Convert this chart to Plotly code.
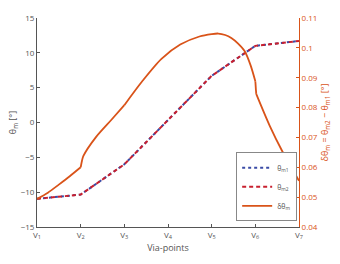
import plotly.graph_objects as go

# Via-point positions (index 1..7) and tick labels
via_x = [1, 2, 3, 4, 5, 6, 7]
via_labels = ["V<sub>1</sub>", "V<sub>2</sub>", "V<sub>3</sub>", "V<sub>4</sub>",
              "V<sub>5</sub>", "V<sub>6</sub>", "V<sub>7</sub>"]

# Motor angles at via-points [deg]
theta_m1 = [-10.95, -10.35, -6.0, 0.3, 6.7, 11.0, 11.7]
theta_m2 = [-10.95, -10.35, -6.0, 0.3, 6.7, 11.0, 11.7]

# Difference curve (x in via-point units), split at kinks
dtheta_x_a = [1.0, 1.25, 1.5, 1.75, 2.0]
dtheta_a = [0.0494, 0.0515, 0.0542, 0.0570, 0.0600]
dtheta_x_b = [2.0, 2.03, 2.06, 2.35, 2.71, 3.0]
dtheta_b = [0.0600, 0.0622, 0.0637, 0.0701, 0.0760, 0.0808]
dtheta_x_c = [3.0, 3.41, 3.85, 4.28, 4.72, 5.0, 5.15, 5.31, 5.45, 5.6, 5.75, 5.89, 6.0]
dtheta_c = [0.0808, 0.0888, 0.0963, 0.1011, 0.1038, 0.1046, 0.1048, 0.1043, 0.1033,
            0.1015, 0.0990, 0.0942, 0.0888]
dtheta_x_d = [6.0, 6.02, 6.33, 6.62, 7.0]
dtheta_d = [0.0888, 0.0846, 0.0739, 0.0653, 0.0555]

ORANGE = "#D95319"
BLUE = "#3A4BA6"
RED = "#C8202F"
GREY = "#555555"
FONT = "Open Sans"

fig = go.Figure()
fig.add_trace(go.Scatter(x=via_x, y=theta_m1, mode="lines", name="θ<sub>m1</sub>",
                         line=dict(color=BLUE, width=2, dash="dot")))
fig.add_trace(go.Scatter(x=via_x, y=theta_m2, mode="lines", name="θ<sub>m2</sub>",
                         line=dict(color=RED, width=2, dash="4px,3px")))
segs = [(dtheta_x_a, dtheta_a, "spline"), (dtheta_x_b, dtheta_b, "spline"),
        (dtheta_x_c, dtheta_c, "spline"), (dtheta_x_d[:2], dtheta_d[:2], "linear"),
        (dtheta_x_d[1:], dtheta_d[1:], "spline")]
for i, (sx, sy, shp) in enumerate(segs):
    fig.add_trace(go.Scatter(x=sx, y=sy, mode="lines", name="δθ<sub>m</sub>",
                             yaxis="y2", legendgroup="d", showlegend=(i == 0),
                             line=dict(color=ORANGE, width=1.8, shape=shp, smoothing=0.8)))

fig.update_layout(
    width=340, height=264,
    margin=dict(l=30, r=36, t=12, b=33),
    paper_bgcolor="white", plot_bgcolor="white",
    font=dict(family=FONT, size=8, color=GREY),
    showlegend=True,
    legend=dict(x=0.993, y=0.027, xanchor="right", yanchor="bottom",
                bgcolor="white", bordercolor="#888888", borderwidth=1,
                font=dict(size=7, color=GREY), tracegroupgap=0,
                itemwidth=30),
    xaxis=dict(range=[1, 7], tickmode="array", tickvals=via_x, ticktext=via_labels,
               showline=True, linecolor=GREY, linewidth=1, ticks="inside",
               ticklen=3, tickcolor=GREY, showgrid=False, zeroline=False,
               title=dict(text="Via-points", font=dict(size=9, color=GREY), standoff=4),
               tickfont=dict(size=8, color=GREY)),
    yaxis=dict(range=[-15, 15], tickvals=[-15, -10, -5, 0, 5, 10, 15],
               showline=True, linecolor=GREY, linewidth=1, ticks="inside",
               ticklen=3, tickcolor=GREY, showgrid=False, zeroline=False,
               title=dict(text="θ<sub>m</sub> [°]", font=dict(size=9, color=GREY), standoff=2),
               tickfont=dict(size=8, color=GREY)),
    yaxis2=dict(range=[0.04, 0.11], overlaying="y", side="right",
                tickvals=[0.04, 0.05, 0.06, 0.07, 0.08, 0.09, 0.10, 0.11],
                ticktext=["0.04", "0.05", "0.06", "0.07", "0.08", "0.09", "0.1", "0.11"],
                showline=True, linecolor=ORANGE, linewidth=1, ticks="inside",
                ticklen=3, tickcolor=ORANGE, showgrid=False, zeroline=False,
                title=dict(text="δθ<sub>m</sub> = θ<sub>m2</sub> − θ<sub>m1</sub> [°]",
                           font=dict(size=9, color=ORANGE), standoff=4),
                tickfont=dict(size=8, color=ORANGE)),
)

fig.write_html("out.html")
